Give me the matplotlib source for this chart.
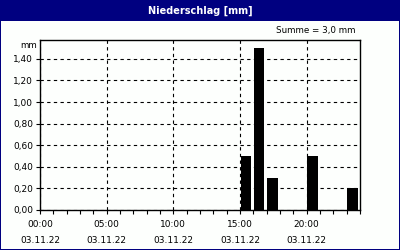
import matplotlib
matplotlib.use("Agg")
import matplotlib.pyplot as plt
from matplotlib.patches import Rectangle
from matplotlib.ticker import MultipleLocator, FixedLocator

hours = [15, 16, 17, 20, 23]
values = [0.5, 1.5, 0.3, 0.5, 0.2]
time_labels = ["00:00", "05:00", "10:00", "15:00", "20:00"]
date_labels = ["03.11.22"] * 5
ytick_vals = [0.0, 0.2, 0.4, 0.6, 0.8, 1.0, 1.2, 1.4]
title = "Niederschlag [mm]"
summe = "Summe = 3,0 mm"

navy = "#000080"
bg = "#fdfffd"
W, H = 400, 250

fig = plt.figure(figsize=(4, 2.5), dpi=100, facecolor=bg)

def px(x0, y0, w, h):
    return (x0 / W, 1 - (y0 + h) / H, w / W, h / H)

# Borders and title bar
for r in [px(0, 0, 400, 21), px(0, 0, 1.2, 250), px(398.8, 0, 1.2, 250), px(0, 248.8, 400, 1.2)]:
    fig.patches.append(Rectangle((r[0], r[1]), r[2], r[3], transform=fig.transFigure,
                                 facecolor=navy, edgecolor="none", zorder=0))
fig.text(0.5, 1 - 10.5 / H, title, color="white", fontsize=7, fontweight="bold",
         ha="center", va="center", family="DejaVu Sans")
fig.text(355 / W, 1 - 31 / H, summe, fontsize=6.3, ha="right", va="center")
fig.text(37 / W, 1 - 46 / H, "mm", fontsize=6.3, ha="right", va="center")

ax = fig.add_axes(px(40, 40, 320, 170))
ax.set_facecolor(bg)
ax.bar([h + 0.05 for h in hours], values, width=0.78, align="edge", color="black", zorder=3)
ax.set_xlim(0, 24)
ax.set_ylim(0, 1.575)

ax.xaxis.set_major_locator(FixedLocator([0, 5, 10, 15, 20]))
ax.xaxis.set_minor_locator(MultipleLocator(1))
ax.set_xticklabels([f"{t}\n\n{d}" for t, d in zip(time_labels, date_labels)], fontsize=6.5,
                   linespacing=0.85)
ax.set_yticks(ytick_vals)
ax.set_yticklabels([f"{v:.2f}".replace(".", ",") for v in ytick_vals], fontsize=6.5)
ax.tick_params(axis="both", which="both", direction="out", length=3, width=0.8, color="black", pad=2)
ax.tick_params(axis="x", which="major", pad=4)
ax.grid(True, which="major", linestyle=(0, (3, 3)), color="black", linewidth=0.8, zorder=1)
for s in ax.spines.values():
    s.set_linewidth(1)
    s.set_color("black")

fig.savefig("out.png", dpi=100, facecolor=bg)
